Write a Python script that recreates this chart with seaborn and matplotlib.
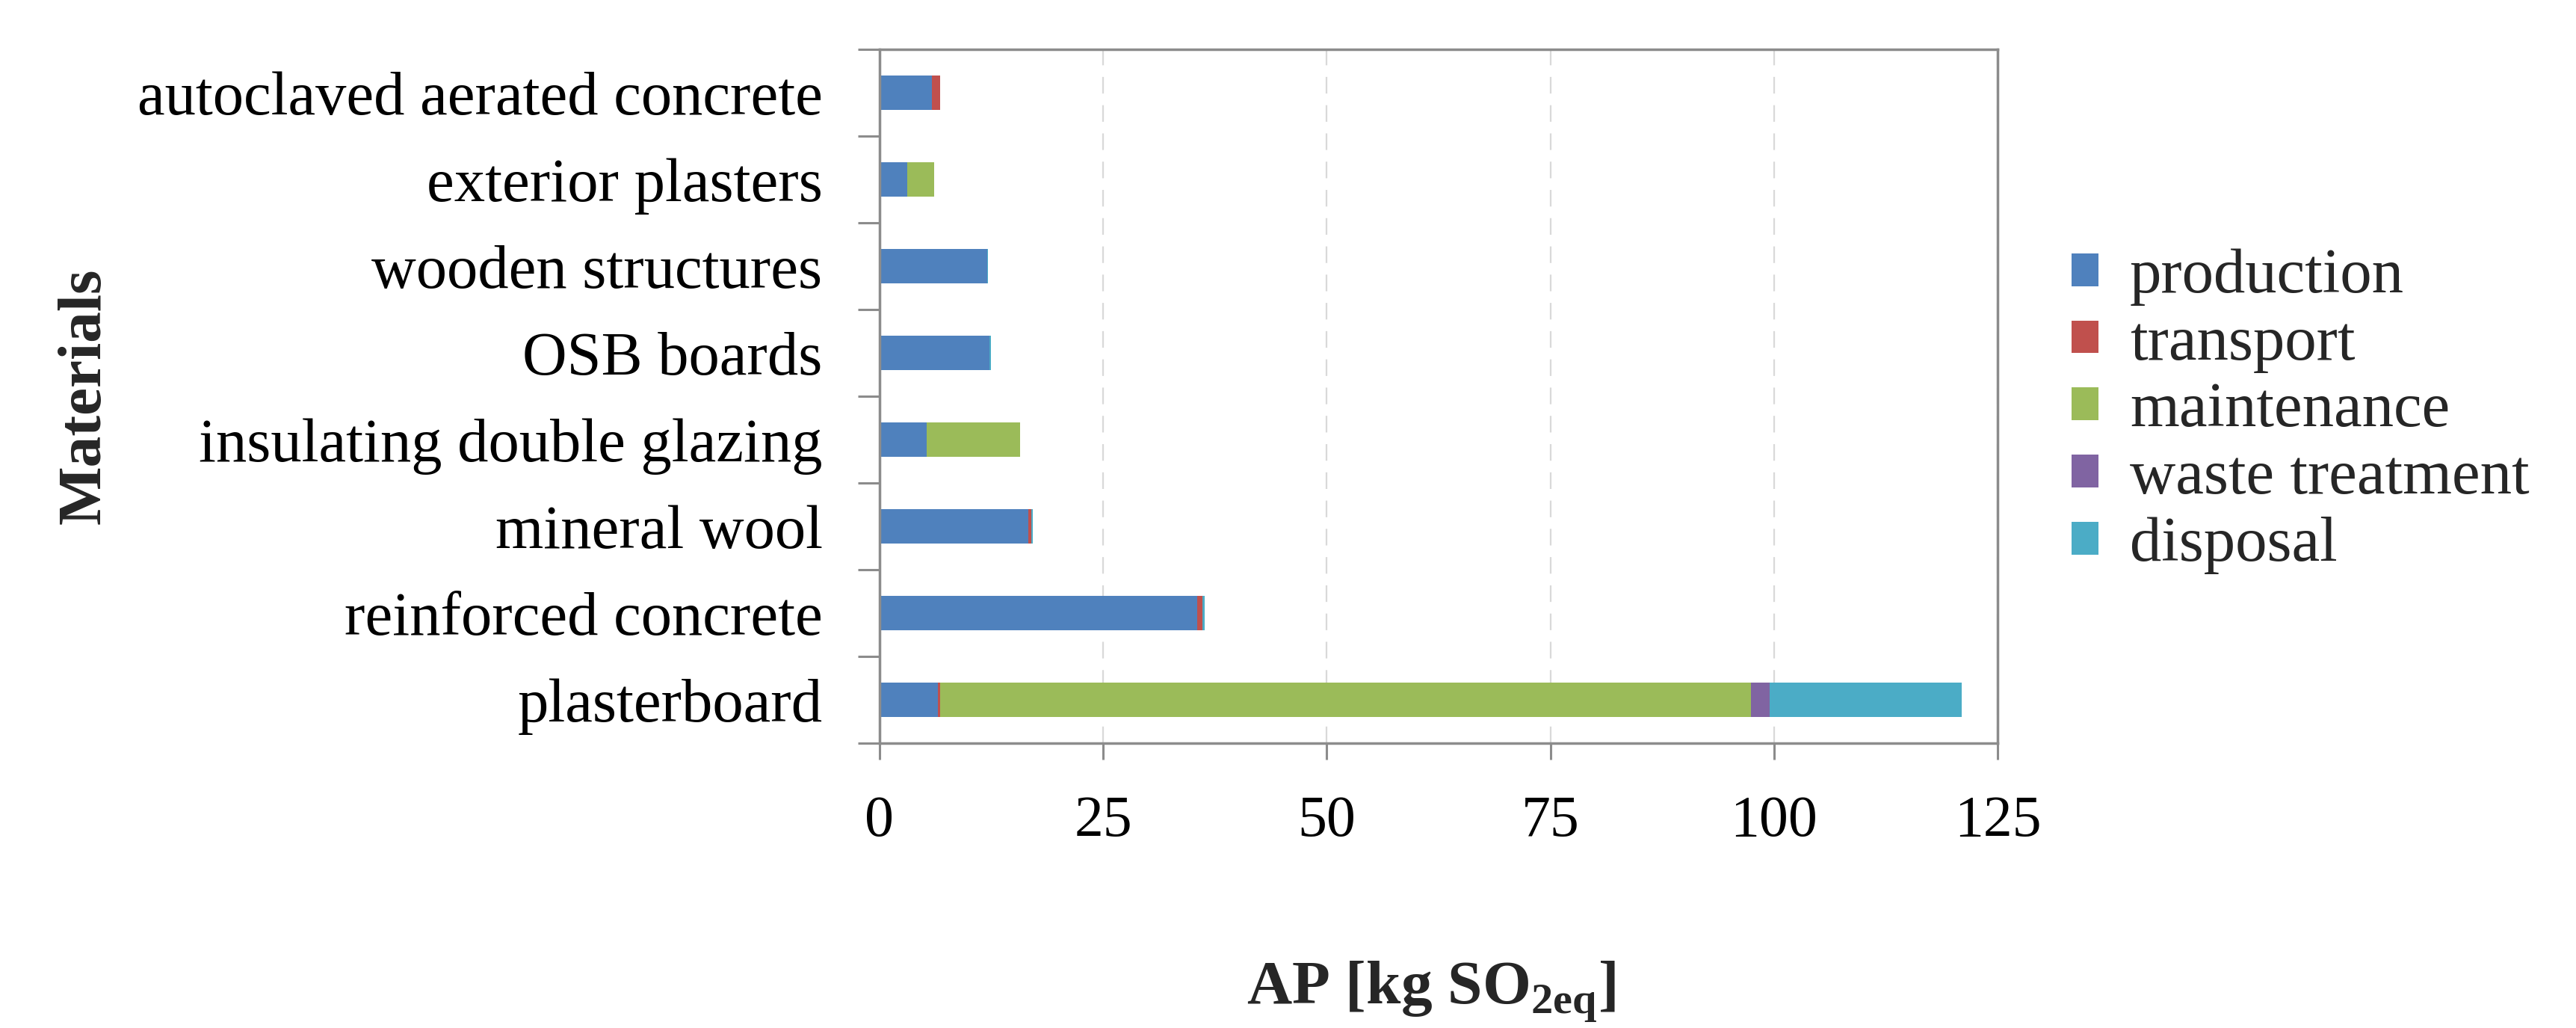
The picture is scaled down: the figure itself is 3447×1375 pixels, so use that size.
import matplotlib
matplotlib.use("Agg")
import matplotlib.pyplot as plt
import seaborn as sns
import pandas as pd
import numpy as np
from matplotlib.patches import Patch

# ---- data ----
materials = ["autoclaved aerated concrete", "exterior plasters", "wooden structures",
             "OSB boards", "insulating double glazing", "mineral wool",
             "reinforced concrete", "plasterboard"]
stages = ["production", "transport", "maintenance", "waste treatment", "disposal"]
production = [5.85, 3.1, 12.0, 12.3, 5.3, 16.6, 35.5, 6.5]
transport = [0.9, 0.0, 0.0, 0.0, 0.0, 0.4, 0.6, 0.3]
maintenance = [0.0, 3.0, 0.0, 0.0, 10.4, 0.0, 0.0, 90.6]
waste_treatment = [0.0, 0.0, 0.0, 0.0, 0.0, 0.0, 0.0, 2.1]
disposal = [0.0, 0.0, 0.12, 0.15, 0.0, 0.15, 0.25, 21.5]
stage_colors = ["#4F81BD", "#C0504D", "#9BBB59", "#8064A2", "#4BACC6"]
x_ticks = [0, 25, 50, 75, 100, 125]
x_label = r"AP [kg SO$_{\mathbf{2eq}}$]"
y_label = "Materials"

sns.set_theme(style="white")
plt.rcParams["font.family"] = ["Liberation Serif", "DejaVu Serif"]
plt.rcParams["mathtext.fontset"] = "custom"
plt.rcParams["mathtext.rm"] = "Liberation Serif"
plt.rcParams["mathtext.bf"] = "Liberation Serif:bold"

W, H = 3448, 1375
fig = plt.figure(figsize=(W / 100, H / 100), dpi=100)
ax = fig.add_axes([1177 / W, 1 - 994 / H, 1496 / W, 928 / H])

series = [production, transport, maintenance, waste_treatment, disposal]
df = pd.DataFrame({s: v for s, v in zip(stages, series)}, index=materials)
cum = df.cumsum(axis=1)

# draw from the total backwards so that earlier segments overlay later ones
for stage, col in reversed(list(zip(stages, stage_colors))):
    d = pd.DataFrame({"material": materials, "value": cum[stage].values})
    sns.barplot(data=d, x="value", y="material", order=materials, orient="h",
                color=col, saturation=1, width=0.4, linewidth=0, ax=ax, errorbar=None)

spine_col = "#8C8C8C"
ax.set_xlim(0, 125)
ax.set_ylim(7.5, -0.5)
ax.set_xticks(x_ticks)
ax.set_xticklabels([str(t) for t in x_ticks])
ax.set_yticks(np.arange(-0.5, 8, 1), minor=True)
ax.tick_params(axis="y", which="major", length=0, pad=55, labelsize=59.5, colors="black")
ax.tick_params(axis="y", which="minor", length=21, width=2.2, color=spine_col, direction="out", left=True)
ax.tick_params(axis="x", which="major", length=16, width=2.2, color=spine_col, direction="out",
               bottom=True, pad=34, labelsize=56, labelcolor="black")
for sp in ax.spines.values():
    sp.set_visible(True)
    sp.set_color(spine_col)
    sp.set_linewidth(2.5)
ax.xaxis.grid(True, linestyle=(0, (10, 7)), color="#D9D9D9", linewidth=1.6)
ax.yaxis.grid(False)
ax.set_axisbelow(True)
ax.set_xlabel("")
ax.set_ylabel("")

fig.text(114 / W, 1 - 530 / H, y_label, rotation=90, ha="center", va="center",
         fontsize=60, fontweight="bold")
fig.text(1915 / W, 1 - 1327 / H, x_label, ha="center", va="center",
         fontsize=60, fontweight="bold")

handles = [Patch(facecolor=c, edgecolor="none", label=s) for s, c in zip(stages, stage_colors)]
fig.legend(handles=handles, loc="center left", bbox_to_anchor=(2772 / W, 1 - 550 / H),
           frameon=False, fontsize=61, handlelength=0.42, handleheight=0.42,
           handletextpad=0.5, labelspacing=0.15, borderpad=0, borderaxespad=0)

fig.savefig("out.png", dpi=100, facecolor="white")
